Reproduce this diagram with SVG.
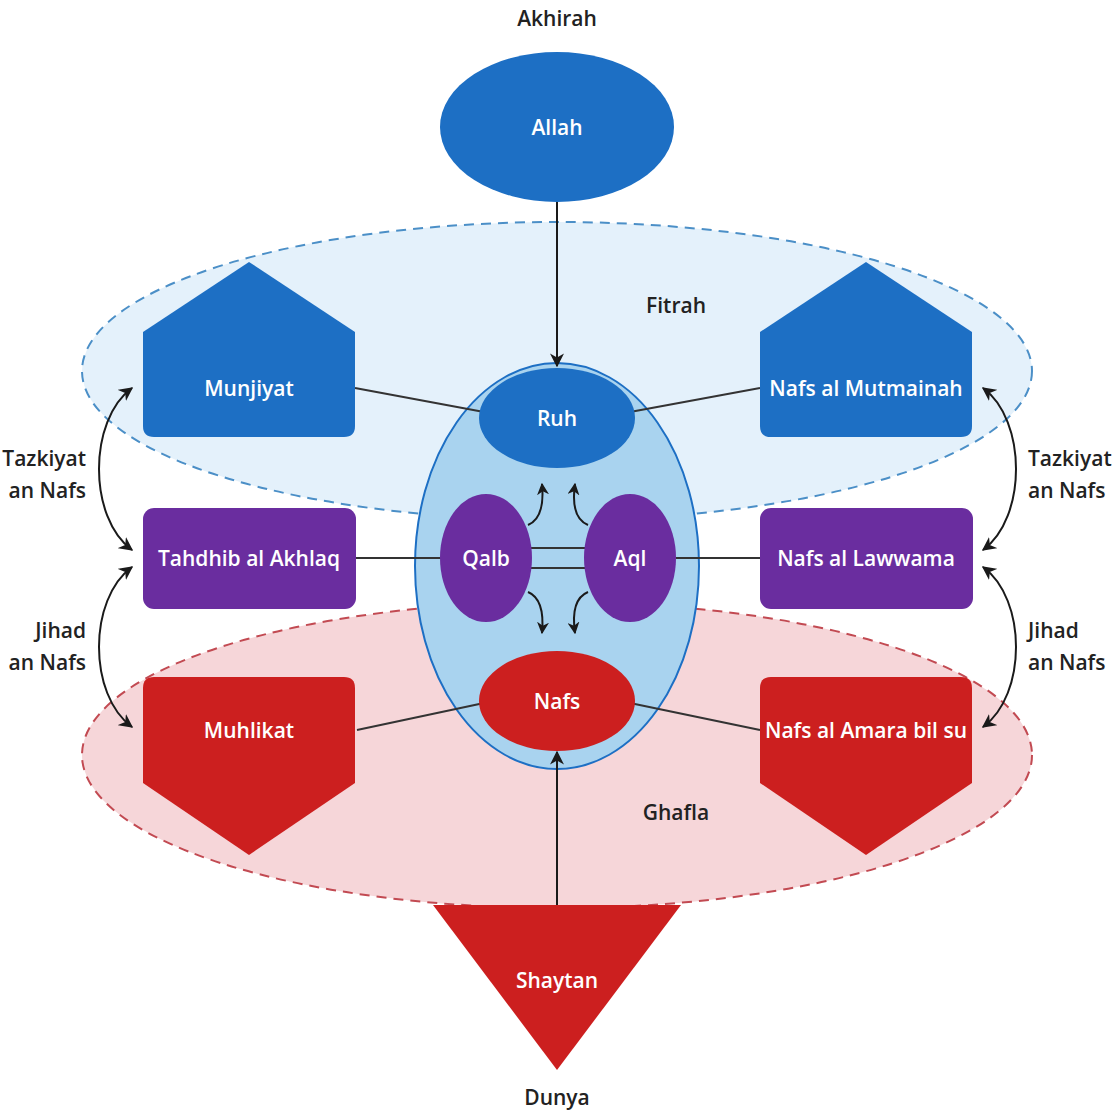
<svg xmlns="http://www.w3.org/2000/svg" width="1113" height="1113" viewBox="0 0 1113 1113">
<defs>
<style>
.lbl{font-family:"Open Sans","Liberation Sans",sans-serif;font-weight:600;font-size:21px;fill:#ffffff;text-anchor:middle;dominant-baseline:central}
.out{font-family:"Open Sans","Liberation Sans",sans-serif;font-weight:600;font-size:21px;fill:#222222;text-anchor:middle;dominant-baseline:central}
.outl{font-family:"Open Sans","Liberation Sans",sans-serif;font-weight:600;font-size:21px;fill:#222222;text-anchor:end;dominant-baseline:central}
.outr{font-family:"Open Sans","Liberation Sans",sans-serif;font-weight:600;font-size:21px;fill:#222222;text-anchor:start;dominant-baseline:central}
.blue{fill:#1d6fc4}
.purple{fill:#6a2d9f}
.red{fill:#cc1f1f}
.conn{stroke:#333333;stroke-width:2;fill:none}
.arr{stroke:#1a1a1a;stroke-width:2;fill:none}
</style>
<marker id="ah" viewBox="0 0 10 10" refX="9" refY="5" markerWidth="12" markerHeight="12" orient="auto-start-reverse" markerUnits="userSpaceOnUse">
<path d="M0,0 L10,5 L0,10 L3,5 z" fill="#1a1a1a"/>
</marker>
<marker id="ah2" viewBox="0 0 10 10" refX="9" refY="5" markerWidth="14" markerHeight="14" orient="auto-start-reverse" markerUnits="userSpaceOnUse">
<path d="M0,0 L10,5 L0,10 L3,5 z" fill="#1a1a1a"/>
</marker>
</defs>
<rect width="1113" height="1113" fill="#ffffff"/>
<g id="zones">
<ellipse id="fitrah-zone" cx="557" cy="371" rx="475" ry="149" fill="#e4f1fb" stroke="#4b8fc7" stroke-width="2" stroke-dasharray="10,7"/>
<ellipse id="ghafla-zone" cx="557" cy="755" rx="475" ry="153" fill="#f6d6d9" stroke="#c24a52" stroke-width="2" stroke-dasharray="10,7"/>
<ellipse id="heart-zone" cx="557" cy="566" rx="142" ry="203" fill="#a9d3ef" stroke="#1d6fc4" stroke-width="2"/>
</g>
<g id="connectors">
<line class="conn" x1="355" y1="388" x2="484" y2="412"/>
<line class="conn" x1="760" y1="388" x2="630" y2="412"/>
<line class="conn" x1="356" y1="558" x2="441" y2="558"/>
<line class="conn" x1="676" y1="558" x2="760" y2="558"/>
<line class="conn" x1="357" y1="730" x2="484" y2="703"/>
<line class="conn" x1="760" y1="730" x2="630" y2="703"/>
<line class="conn" x1="531" y1="548" x2="585" y2="548"/>
<line class="conn" x1="531" y1="568" x2="585" y2="568"/>
<line class="arr" x1="557" y1="202" x2="557" y2="366" marker-end="url(#ah2)"/>
<line class="arr" x1="557" y1="905" x2="557" y2="752" marker-end="url(#ah2)"/>
<path class="arr" d="M528,525 C540,520 544,505 542,484" marker-end="url(#ah)"/>
<path class="arr" d="M588,525 C576,520 572,505 575,484" marker-end="url(#ah)"/>
<path class="arr" d="M528,592 C540,597 544,612 542,633" marker-end="url(#ah)"/>
<path class="arr" d="M588,592 C576,597 572,612 575,633" marker-end="url(#ah)"/>
<path class="arr" d="M132,388 C88,420 88,518 132,550" marker-start="url(#ah2)" marker-end="url(#ah2)"/>
<path class="arr" d="M132,567 C88,599 88,695 132,727" marker-start="url(#ah2)" marker-end="url(#ah2)"/>
<path class="arr" d="M983,388 C1027,420 1027,518 983,550" marker-start="url(#ah2)" marker-end="url(#ah2)"/>
<path class="arr" d="M983,567 C1027,599 1027,695 983,727" marker-start="url(#ah2)" marker-end="url(#ah2)"/>
</g>
<g id="allah">
<ellipse class="blue" cx="557" cy="127" rx="117" ry="75"/>
<text class="lbl" x="557" y="127">Allah</text>
</g>
<g id="ruh">
<ellipse class="blue" cx="557" cy="418" rx="78" ry="50"/>
<text class="lbl" x="557" y="418">Ruh</text>
</g>
<g id="nafs">
<ellipse class="red" cx="557" cy="701" rx="78" ry="50"/>
<text class="lbl" x="557" y="701">Nafs</text>
</g>
<g id="qalb">
<ellipse class="purple" cx="486" cy="558" rx="46" ry="64"/>
<text class="lbl" x="486" y="558">Qalb</text>
</g>
<g id="aql">
<ellipse class="purple" cx="630" cy="558" rx="46" ry="64"/>
<text class="lbl" x="630" y="558">Aql</text>
</g>
<g id="munjiyat">
<path class="blue" d="M249,262 L355,332 L355,426 Q355,437 344,437 L154,437 Q143,437 143,426 L143,332 Z"/>
<text class="lbl" x="249" y="388">Munjiyat</text>
</g>
<g id="nafs-al-mutmainah">
<path class="blue" d="M866,262 L972,332 L972,426 Q972,437 961,437 L771,437 Q760,437 760,426 L760,332 Z"/>
<text class="lbl" x="866" y="388">Nafs al Mutmainah</text>
</g>
<g id="tahdhib-al-akhlaq">
<rect class="purple" x="143" y="508" width="213" height="101" rx="11"/>
<text class="lbl" x="249" y="558">Tahdhib al Akhlaq</text>
</g>
<g id="nafs-al-lawwama">
<rect class="purple" x="760" y="508" width="213" height="101" rx="11"/>
<text class="lbl" x="866" y="558">Nafs al Lawwama</text>
</g>
<g id="muhlikat">
<path class="red" d="M154,677 L344,677 Q355,677 355,688 L355,783 L249,855 L143,783 L143,688 Q143,677 154,677 Z"/>
<text class="lbl" x="249" y="730">Muhlikat</text>
</g>
<g id="nafs-al-amara-bil-su">
<path class="red" d="M771,677 L961,677 Q972,677 972,688 L972,783 L866,855 L760,783 L760,688 Q760,677 771,677 Z"/>
<text class="lbl" x="866" y="730">Nafs al Amara bil su</text>
</g>
<g id="shaytan">
<path class="red" d="M433,905 L681,905 L557,1070 Z"/>
<text class="lbl" x="557" y="980">Shaytan</text>
</g>
<g id="labels">
<text class="out" x="557" y="18">Akhirah</text>
<text class="out" x="557" y="1097">Dunya</text>
<text class="out" x="676" y="305">Fitrah</text>
<text class="out" x="676" y="812">Ghafla</text>
<text class="outl" x="86" y="458">Tazkiyat</text>
<text class="outl" x="86" y="490">an Nafs</text>
<text class="outl" x="86" y="630">Jihad</text>
<text class="outl" x="86" y="662">an Nafs</text>
<text class="outr" x="1028" y="458">Tazkiyat</text>
<text class="outr" x="1028" y="490">an Nafs</text>
<text class="outr" x="1028" y="630">Jihad</text>
<text class="outr" x="1028" y="662">an Nafs</text>
</g>
</svg>
